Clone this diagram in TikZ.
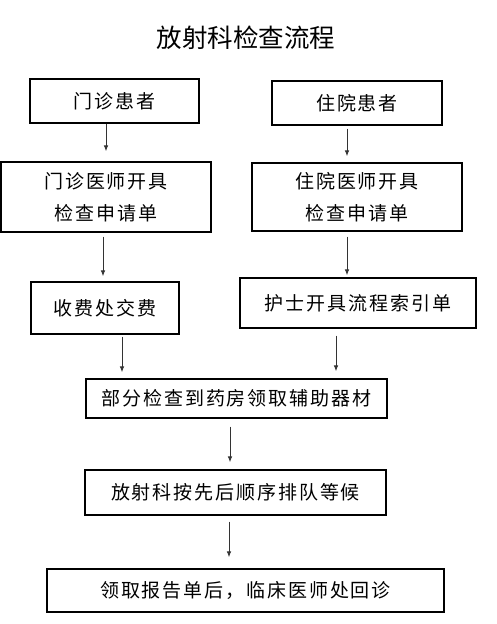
\documentclass[tikz,border=0pt]{standalone}
\usepackage{fontspec}
\setmainfont{Noto Sans CJK SC}
\newfontfamily\boxfont[LetterSpace=10]{Noto Sans CJK SC}
\usetikzlibrary{arrows.meta,positioning}

\begin{document}
\begin{tikzpicture}[x=1pt,y=-1pt,
	box/.style={draw,line width=1.2pt,align=center,inner sep=0pt,
		font=\boxfont\fontsize{19}{32}\selectfont},
	arr/.style={-{Latex[length=6pt,width=4.5pt]},line width=0.9pt,draw=black!80}]
	
	\useasboundingbox (0,0) rectangle (496,624);
	
	\node[font=\fontsize{25.5}{30}\selectfont] (title) at (246,38) {放射科检查流程};
	
	\node[box,minimum width=169pt,minimum height=44pt] (menzhen) at (114.5,101) {门诊患者};
	\node[box,minimum width=170pt,minimum height=44pt] (zhuyuan) at (357,103) {住院患者};
	
	\node[box,minimum width=210pt,minimum height=70pt] (mzdoc) at (106,197) {门诊医师开具\\检查申请单};
	\node[box,minimum width=210pt,minimum height=68pt] (zydoc) at (357,197) {住院医师开具\\检查申请单};
	
	\node[box,minimum width=148pt,minimum height=52pt] (fee) at (105,308) {收费处交费};
	\node[box,minimum width=236pt,minimum height=50pt] (nurse) at (358,303) {护士开具流程索引单};
	
	\node[box,minimum width=301pt,minimum height=39pt] (pharm) at (236.5,398.5) {部分检查到药房领取辅助器材};
	\node[box,minimum width=301pt,minimum height=45pt] (queue) at (235.5,492.5) {放射科按先后顺序排队等候};
	\node[box,minimum width=397pt,minimum height=43pt] (report) at (245.5,590.5) {领取报告单后，临床医师处回诊};
	
	\draw[arr,shorten >=10pt] (mzdoc.north |- menzhen.south) -- (mzdoc.north);
	\draw[arr,shorten <=3pt,shorten >=6pt] ([xshift=-10pt]zydoc.north |- zhuyuan.south) -- ([xshift=-10pt]zydoc.north);
	
	\draw[arr,shorten <=4pt,shorten >=5pt] ([xshift=-2pt]fee.north |- mzdoc.south) -- ([xshift=-2pt]fee.north);
	\draw[arr,shorten <=5pt,shorten >=2pt] ([xshift=-11pt]nurse.north |- zydoc.south) -- ([xshift=-11pt]nurse.north);
	
	\draw[arr,shorten <=2pt,shorten >=6pt] ([xshift=17pt]fee.south) -- ([xshift=17pt]fee.south |- pharm.north);
	\draw[arr,shorten <=7pt,shorten >=7pt] ([xshift=-22pt]nurse.south) -- ([xshift=-22pt]nurse.south |- pharm.north);
	
	\draw[arr,shorten <=8pt,shorten >=7pt] ([xshift=-6.5pt]pharm.south) -- ([xshift=-6.5pt]pharm.south |- queue.north);
	\draw[arr,shorten <=6pt,shorten >=11pt] ([xshift=-6.5pt]queue.south) -- ([xshift=-6.5pt]queue.south |- report.north);
	
\end{tikzpicture}
\end{document}
